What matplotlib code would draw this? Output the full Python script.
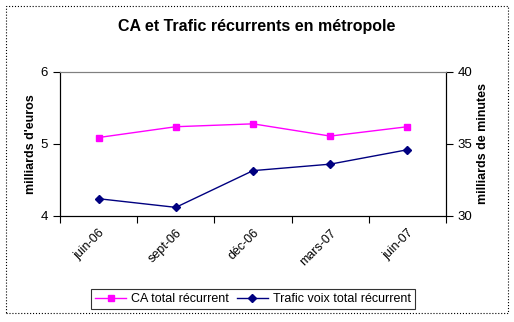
import matplotlib
matplotlib.use('Agg')
import matplotlib.pyplot as plt
from matplotlib.patches import Rectangle

plt.rcParams['font.family'] = ['Liberation Sans', 'DejaVu Sans']

periodes = ['juin-06', 'sept-06', 'déc-06', 'mars-07', 'juin-07']
ca_total = [5.09, 5.24, 5.28, 5.11, 5.24]
trafic_voix = [31.2, 30.6, 33.15, 33.6, 34.6]

fig = plt.figure(figsize=(5.14, 3.22), dpi=100)
ax = fig.add_axes([60 / 514, 1 - 216 / 322, 386 / 514, 144 / 322])
ax2 = ax.twinx()

x = list(range(len(periodes)))
l1, = ax.plot(x, ca_total, color='#ff00ff', marker='s', markersize=5, lw=1,
              label='CA total récurrent')
l2, = ax2.plot(x, trafic_voix, color='#000080', marker='D', markersize=4.5, lw=1,
               label='Trafic voix total récurrent')

ax.set_xlim(-0.5, len(periodes) - 0.5)
ax.set_ylim(4, 6)
ax.set_yticks([4, 5, 6])
ax2.set_ylim(30, 40)
ax2.set_yticks([30, 35, 40])

ax.set_xticks([i - 0.5 for i in range(len(periodes) + 1)])
ax.set_xticklabels([])
ax.set_xticks(x, minor=True)
ax.set_xticklabels(periodes, minor=True, rotation=45, ha='right', va='top',
                   rotation_mode='anchor', fontsize=9)
ax.tick_params(axis='x', which='minor', length=0, pad=8)
ax.tick_params(axis='x', which='major', length=5, direction='out')
ax.tick_params(axis='y', length=5, labelsize=9.5)
ax2.tick_params(axis='y', length=5, labelsize=9.5)

for a in (ax, ax2):
    a.spines['top'].set_color('#808080')
    a.spines['left'].set_color('black')
    a.spines['right'].set_color('black')

ax.set_ylabel("milliards d'euros", fontsize=9, fontweight='bold', labelpad=3)
ax2.set_ylabel('milliards de minutes', fontsize=9, fontweight='bold',
               rotation=90, labelpad=3)

fig.text(0.5, 1 - 27 / 322, 'CA et Trafic récurrents en métropole',
         ha='center', va='center', fontsize=11.5, fontweight='bold')

leg = fig.legend(handles=[l1, l2], loc='center', ncol=2,
                 bbox_to_anchor=(253 / 514, 1 - 299 / 322), fontsize=9,
                 frameon=True, fancybox=False, edgecolor='black',
                 handlelength=2.5, handletextpad=0.4, columnspacing=0.6,
                 borderpad=0.3)
leg.get_frame().set_linewidth(0.8)

fig.patches.append(Rectangle((6 / 514, 1 - 313 / 322), 502 / 514, 307 / 322,
                             transform=fig.transFigure, fill=False,
                             edgecolor='black', linestyle=':', lw=0.8))

fig.savefig('out.png', dpi=100)
